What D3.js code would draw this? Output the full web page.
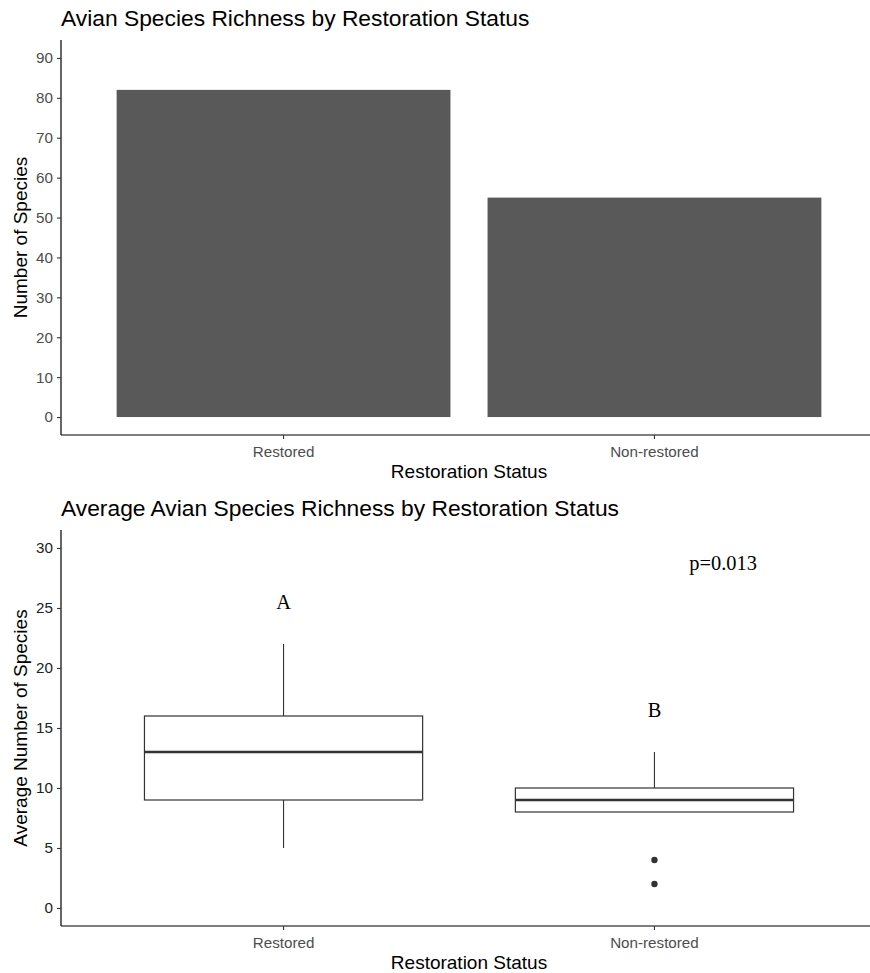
<!DOCTYPE html>
<html>
<head>
<meta charset="utf-8">
<script src="https://cdn.jsdelivr.net/npm/d3@7"></script>
<style>
  html, body { margin: 0; padding: 0; background: #fff; }
  svg { display: block; }
  text { font-family: "Liberation Sans", Arial, sans-serif; }
</style>
</head>
<body>
<svg id="chart" width="870" height="973"></svg>
<script>
// Total species counted per restoration status
const categories = ["Restored", "Non-restored"];
const speciesCount = [82, 55];

// Per-site species richness summaries (box plot statistics)
const boxLower = [5, 8];
const boxQ1 = [9, 8];
const boxMedian = [13, 9];
const boxQ3 = [16, 10];
const boxUpper = [22, 13];
const outliers = [[], [4, 2]];

// Tick values
const barTicks = [0, 10, 20, 30, 40, 50, 60, 70, 80, 90];
const boxTicks = [0, 5, 10, 15, 20, 25, 30];

// Group letters and test result
const groupLetters = ["A", "B"];
const letterY = [25.5, 16.5];
const pLabel = "p=0.013";
const pPos = { cat: 1.185, y: 28.75 };

const svg = d3.select("#chart");
const left = 61, right = 877;
const tickFont = "15.2px", axisTitleFont = "19px", titleFont = "22.8px", annoFont = "20.4px";

// Discrete x positions (0.6 unit expansion either side)
const xCont = d3.scaleLinear().domain([0.4, 2.6]).range([left, right]);
const xPos = i => xCont(i + 1);
const step = xCont(2) - xCont(1);
const xMid = (left + right) / 2;

function yAxis(g, scale, ticks, color) {
  g.append("line").attr("x1", left).attr("x2", left)
    .attr("y1", scale.range()[0]).attr("y2", scale.range()[1])
    .attr("stroke", "#000").attr("stroke-width", 1.2);
  const ax = d3.axisLeft(scale).tickValues(ticks).tickSize(4).tickPadding(4);
  const a = g.append("g").attr("transform", `translate(${left},0)`).call(ax);
  a.select(".domain").remove();
  a.selectAll(".tick line").attr("stroke", "#333").attr("stroke-width", 1.1);
  a.selectAll(".tick text").attr("fill", color)
    .style("font-family", "Liberation Sans, Arial, sans-serif").style("font-size", tickFont);
}

function xAxis(g, yLine) {
  g.append("line").attr("x1", left).attr("x2", 870)
    .attr("y1", yLine).attr("y2", yLine)
    .attr("stroke", "#000").attr("stroke-width", 1.2);
  categories.forEach((c, i) => {
    g.append("line").attr("x1", xPos(i)).attr("x2", xPos(i))
      .attr("y1", yLine).attr("y2", yLine + 4)
      .attr("stroke", "#333").attr("stroke-width", 1.1);
    g.append("text").attr("x", xPos(i)).attr("y", yLine + 16)
      .attr("text-anchor", "middle").attr("dominant-baseline", "central")
      .attr("fill", "#4d4d4d").style("font-size", tickFont).text(c);
  });
}

// ---------- Upper panel: bar chart ----------
const barPanel = svg.append("g");
const yBar = d3.scaleLinear().domain([-4.5, 94.5]).range([435, 40]);

barPanel.append("text").attr("x", 61).attr("y", 18).attr("dominant-baseline", "central")
  .attr("fill", "#000").style("font-size", titleFont)
  .text("Avian Species Richness by Restoration Status");

const bw = step * 0.9;
barPanel.selectAll("rect.bar").data(speciesCount).join("rect")
  .attr("class", "bar")
  .attr("x", (d, i) => xPos(i) - bw / 2)
  .attr("width", bw)
  .attr("y", d => yBar(d))
  .attr("height", d => yBar(0) - yBar(d))
  .attr("fill", "#595959");

yAxis(barPanel, yBar, barTicks, "#4d4d4d");
xAxis(barPanel, 435);

barPanel.append("text").attr("x", xMid).attr("y", 471).attr("text-anchor", "middle")
  .attr("dominant-baseline", "central").style("font-size", axisTitleFont).attr("fill", "#000")
  .text("Restoration Status");
barPanel.append("text").attr("transform", `translate(20,${(40 + 435) / 2}) rotate(-90)`)
  .attr("text-anchor", "middle").attr("dominant-baseline", "central")
  .style("font-size", axisTitleFont).attr("fill", "#000").text("Number of Species");

// ---------- Lower panel: box plot ----------
const boxPanel = svg.append("g");
const yBox = d3.scaleLinear().domain([-1.5, 31.5]).range([926, 530]);

boxPanel.append("text").attr("x", 61).attr("y", 508).attr("dominant-baseline", "central")
  .attr("fill", "#000").style("font-size", titleFont)
  .text("Average Avian Species Richness by Restoration Status");

const boxW = step * 0.75;
const stroke = "#333";
categories.forEach((c, i) => {
  const cx = xPos(i);
  // whiskers
  boxPanel.append("line").attr("x1", cx).attr("x2", cx)
    .attr("y1", yBox(boxQ3[i])).attr("y2", yBox(boxUpper[i]))
    .attr("stroke", stroke).attr("stroke-width", 1.1);
  boxPanel.append("line").attr("x1", cx).attr("x2", cx)
    .attr("y1", yBox(boxQ1[i])).attr("y2", yBox(boxLower[i]))
    .attr("stroke", stroke).attr("stroke-width", 1.1);
  // box
  boxPanel.append("rect").attr("x", cx - boxW / 2).attr("width", boxW)
    .attr("y", yBox(boxQ3[i])).attr("height", yBox(boxQ1[i]) - yBox(boxQ3[i]))
    .attr("fill", "#fff").attr("stroke", stroke).attr("stroke-width", 1.2);
  // median
  boxPanel.append("line").attr("x1", cx - boxW / 2).attr("x2", cx + boxW / 2)
    .attr("y1", yBox(boxMedian[i])).attr("y2", yBox(boxMedian[i]))
    .attr("stroke", stroke).attr("stroke-width", 2.4);
  // outliers
  boxPanel.selectAll(null).data(outliers[i]).join("circle")
    .attr("cx", cx).attr("cy", d => yBox(d)).attr("r", 3.2).attr("fill", stroke);
  // group letter
  boxPanel.append("text").attr("x", cx).attr("y", yBox(letterY[i]))
    .attr("text-anchor", "middle").attr("dominant-baseline", "central")
    .style("font-family", "Liberation Serif, Times New Roman, serif")
    .style("font-size", annoFont).attr("fill", "#000").text(groupLetters[i]);
});

boxPanel.append("text").attr("x", xCont(pPos.cat + 1)).attr("y", yBox(pPos.y))
  .attr("text-anchor", "middle").attr("dominant-baseline", "central")
  .style("font-family", "Liberation Serif, Times New Roman, serif")
  .style("font-size", annoFont).attr("fill", "#000").text(pLabel);

yAxis(boxPanel, yBox, boxTicks, "#222");
xAxis(boxPanel, 926);

boxPanel.append("text").attr("x", xMid).attr("y", 962).attr("text-anchor", "middle")
  .attr("dominant-baseline", "central").style("font-size", axisTitleFont).attr("fill", "#000")
  .text("Restoration Status");
boxPanel.append("text").attr("transform", `translate(20,${(530 + 926) / 2}) rotate(-90)`)
  .attr("text-anchor", "middle").attr("dominant-baseline", "central")
  .style("font-size", axisTitleFont).attr("fill", "#000").text("Average Number of Species");
</script>
</body>
</html>
